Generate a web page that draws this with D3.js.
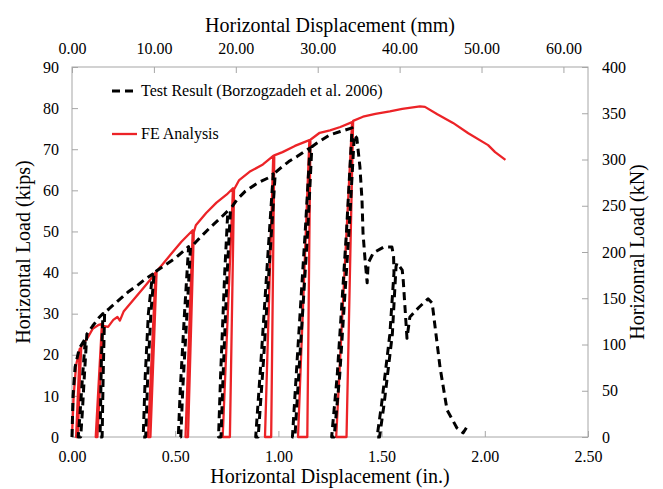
<!DOCTYPE html>
<html>
<head>
<meta charset="utf-8">
<script src="https://cdn.jsdelivr.net/npm/d3@7"></script>
<style>
  html, body { margin: 0; padding: 0; background: #fff; }
  svg { display: block; }
  text { font-family: "Liberation Serif", "Times New Roman", serif; fill: #000; }
</style>
</head>
<body>
<svg id="chart" width="663" height="489"></svg>
<script>
// ---------------- DATA ----------------
const xTicksIn  = [0, 0.5, 1.0, 1.5, 2.0, 2.5];
const xTicksMm  = [0, 10, 20, 30, 40, 50, 60];
const yTicksKips = [0, 10, 20, 30, 40, 50, 60, 70, 80, 90];
const yTicksKN  = [0, 50, 100, 150, 200, 250, 300, 350, 400];

const seriesNames = ["Test Result (Borzogzadeh et al. 2006)", "FE Analysis"];

// Test result: [displacement (in.), load (kips)]
const testResult = [
  [0,0],[0.005,10],[0.015,17],[0.035,21.5],[0.065,24],
  [0.05,14],[0.038,5],[0.03,0],[0.042,0],[0.05,6],[0.06,15],[0.072,25],
  [0.10,27],[0.13,29],[0.15,30],
  [0.142,18],[0.136,0],[0.146,0],[0.151,15],[0.158,30.3],
  [0.18,31.2],[0.22,33],[0.27,35.2],[0.32,37],[0.36,38.6],[0.39,39.6],
  [0.37,30],[0.355,15],[0.345,0],[0.357,0],[0.367,15],[0.382,30],[0.398,40],
  [0.45,41.8],[0.50,43.5],[0.54,45.2],[0.565,46.3],
  [0.545,30],[0.525,12],[0.515,0],[0.527,0],[0.537,12],[0.557,30],[0.574,46],
  [0.62,48.5],[0.67,51],[0.72,53.3],[0.755,55],
  [0.74,40],[0.72,15],[0.71,0],[0.722,0],[0.732,15],[0.752,40],[0.768,55.5],
  [0.80,57.8],[0.84,59.8],[0.90,61.8],[0.95,63],[0.975,64],
  [0.95,45],[0.915,18],[0.89,0],[0.902,0],[0.927,18],[0.96,45],[0.985,64.3],
  [1.01,65.4],[1.05,67],[1.09,68.2],[1.153,70.3],
  [1.13,50],[1.09,18],[1.068,0],[1.08,0],[1.102,18],[1.142,50],[1.162,70.6],
  [1.187,71.5],[1.25,73.5],[1.30,74.3],[1.357,75.2],
  [1.33,50],[1.285,15],[1.258,0],[1.27,0],[1.297,15],[1.342,50],[1.368,73.5],[1.38,72.7],
  [1.395,65.7],[1.405,57.7],[1.41,49.6],[1.42,43],[1.43,37.5],[1.435,42.3],
  [1.46,44.8],[1.51,46.2],[1.55,46.2],[1.558,44],[1.56,40],
  [1.54,25],[1.50,8],[1.478,0],[1.49,0],[1.512,8],[1.552,25],[1.57,41.5],
  [1.575,42.3],[1.60,40.6],[1.605,38],[1.623,24],[1.637,29.2],[1.68,31.5],
  [1.725,33.6],[1.745,32.6],[1.783,17],[1.817,6.6],[1.865,2.2],[1.895,1],[1.92,3]
];

// FE analysis: [displacement (in.), load (kips)]
const feAnalysis = [
  [0,0],[0.008,10],[0.02,17.5],[0.038,21.5],
  [0.03,12],[0.02,0],[0.028,0],[0.036,12],[0.045,22],
  [0.06,23],[0.08,24.5],[0.10,26.3],[0.13,27.3],[0.145,27.5],
  [0.115,0],[0.123,0],[0.15,27],
  [0.175,26.8],[0.20,28.5],[0.22,29.2],[0.232,28.3],[0.25,30.5],[0.30,33.5],
  [0.35,36.5],[0.378,38.2],[0.405,40],
  [0.368,0],[0.38,0],[0.41,40.3],
  [0.43,41.5],[0.48,44.5],[0.53,47.5],[0.585,50.3],
  [0.55,0],[0.562,0],[0.59,49.8],
  [0.60,51.5],[0.65,54.5],[0.70,57],[0.75,59],[0.78,60.5],
  [0.73,0],[0.765,0],[0.785,60.2],
  [0.81,62.5],[0.86,64.5],[0.925,66.3],[0.975,68.4],
  [0.935,0],[0.965,0],[0.98,68.5],
  [1.02,69.3],[1.08,70.8],[1.15,72.2],
  [1.095,0],[1.14,0],[1.155,72.3],
  [1.20,74],[1.25,74.6],[1.30,75.4],[1.357,76.6],
  [1.28,0],[1.33,0],[1.362,76.9],
  [1.41,77.9],[1.47,78.6],[1.54,79.2],[1.60,79.8],[1.686,80.4],[1.71,80.3],
  [1.77,78.5],[1.846,76.4],[1.92,73.9],[2.016,71],[2.05,69.3],[2.10,67.4]
];

// ---------------- CHART ----------------
const svg = d3.select("#chart");
const L = 72, R = 588, T = 67, B = 437;

const x = d3.scaleLinear().domain([0, 2.5]).range([L, R]);
const xMm = d3.scaleLinear().domain([0, 63]).range([L, R]);
const y = d3.scaleLinear().domain([0, 90]).range([B, T]);
const yKN = d3.scaleLinear().domain([0, 400]).range([B, T]);

const axisColor = "#a6a6a6";
const tickFont = 16;

function styleAxis(g) {
  g.select(".domain").remove();
  g.selectAll(".tick line").attr("stroke", axisColor);
  g.selectAll(".tick text").attr("font-size", tickFont).attr("fill", "#000")
    .style("font-family", '"Liberation Serif", serif');
}

svg.append("g").attr("transform", `translate(0,${B})`)
  .call(d3.axisBottom(x).tickValues(xTicksIn).tickFormat(d3.format(".2f")).tickSize(-6).tickPadding(14))
  .call(styleAxis);

svg.append("g").attr("transform", `translate(0,${T})`)
  .call(d3.axisTop(xMm).tickValues(xTicksMm).tickFormat(d3.format(".2f")).tickSize(-6).tickPadding(13))
  .call(styleAxis);

svg.append("g").attr("transform", `translate(${L},0)`)
  .call(d3.axisLeft(y).tickValues(yTicksKips).tickSize(-6).tickPadding(13))
  .call(styleAxis);

svg.append("g").attr("transform", `translate(${R},0)`)
  .call(d3.axisRight(yKN).tickValues(yTicksKN).tickSize(-6).tickPadding(14))
  .call(styleAxis);

// frame
svg.append("rect").attr("x", L).attr("y", T).attr("width", R - L).attr("height", B - T)
  .attr("fill", "none").attr("stroke", axisColor).attr("stroke-width", 1);

const line = d3.line().x(d => x(d[0])).y(d => y(d[1]));

svg.append("path").datum(feAnalysis)
  .attr("d", line).attr("fill", "none")
  .attr("stroke", "#ec2327").attr("stroke-width", 2.3).attr("stroke-linejoin", "round");

svg.append("path").datum(testResult)
  .attr("d", line).attr("fill", "none")
  .attr("stroke", "#000").attr("stroke-width", 3).attr("stroke-dasharray", "8,5")
  .attr("stroke-linejoin", "round");

// axis titles
const titleFont = 20;
svg.append("text").attr("x", (L + R) / 2).attr("y", 32).attr("text-anchor", "middle")
  .attr("font-size", titleFont).text("Horizontal Displacement (mm)");
svg.append("text").attr("x", (L + R) / 2).attr("y", 483).attr("text-anchor", "middle")
  .attr("font-size", titleFont).text("Horizontal Displacement (in.)");
svg.append("text").attr("transform", `translate(30,${(T + B) / 2}) rotate(-90)`)
  .attr("text-anchor", "middle").attr("font-size", titleFont).text("Horizontal Load (kips)");
svg.append("text").attr("transform", `translate(644,${(T + B) / 2}) rotate(-90)`)
  .attr("text-anchor", "middle").attr("font-size", titleFont).text("Horizonral Load (kN)");

// legend
const lg = svg.append("g");
lg.append("line").attr("x1", 112).attr("x2", 137).attr("y1", 91).attr("y2", 91)
  .attr("stroke", "#000").attr("stroke-width", 3).attr("stroke-dasharray", "8,5");
lg.append("text").attr("x", 141).attr("y", 96).attr("font-size", 16).text(seriesNames[0]);
lg.append("line").attr("x1", 112).attr("x2", 137).attr("y1", 134).attr("y2", 134)
  .attr("stroke", "#ec2327").attr("stroke-width", 2.3);
lg.append("text").attr("x", 141).attr("y", 139).attr("font-size", 16).text(seriesNames[1]);
</script>
</body>
</html>
